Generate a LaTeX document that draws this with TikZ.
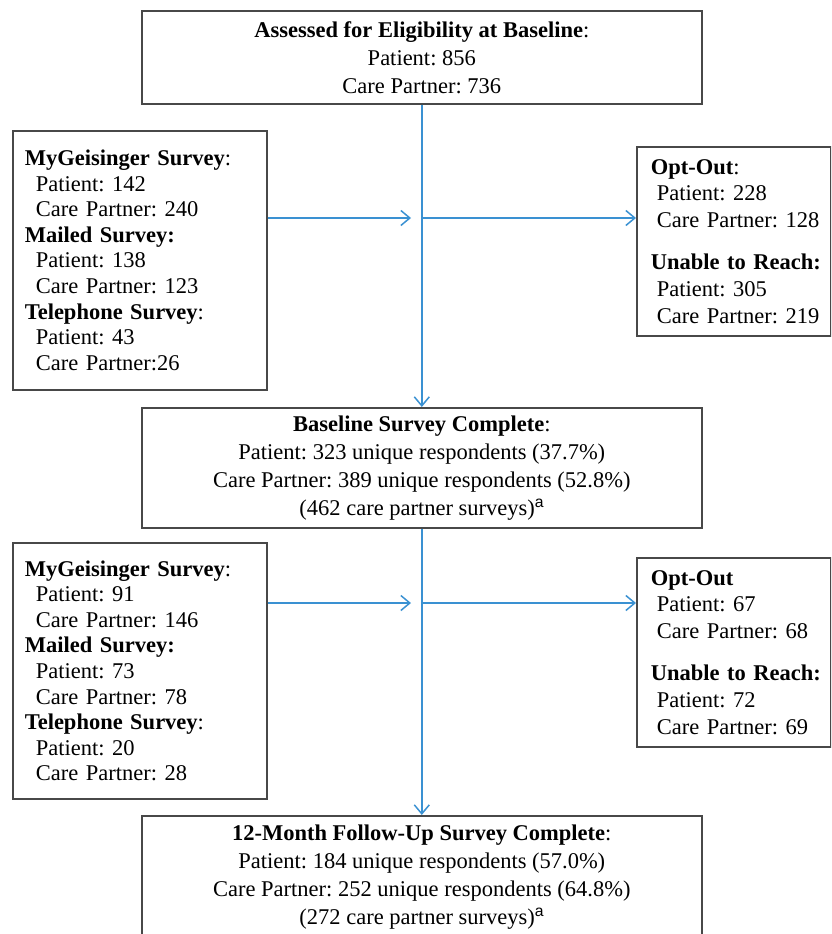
\documentclass[tikz,border=0pt]{standalone}
\usepackage{fontspec}
\setmainfont{Liberation Serif}
\newfontfamily\supfont{Liberation Sans}
\usetikzlibrary{arrows.meta}
\definecolor{arrowblue}{RGB}{58,145,210}
\definecolor{boxgray}{RGB}{72,72,72}
\newcommand{\ind}{\hspace*{11pt}}
\newcommand{\rhead}{\hspace*{14pt}}
\newcommand{\rind}{\hspace*{20pt}}
\newcommand{\supa}{\textsuperscript{\supfont a}}
\begin{document}
\frenchspacing
\begin{tikzpicture}[x=1pt,y=-1pt,
  box/.style={draw=boxgray,line width=1.6pt,inner ysep=0pt},
  cbox/.style={box,align=center,minimum width=560pt,anchor=north west,
    font=\fontsize{22.5}{28}\selectfont\frenchspacing},
  lbox/.style={box,align=left,anchor=north west,inner xsep=12pt,text width=230pt,
    font=\fontsize{22.5}{25.6}\selectfont\frenchspacing},
  rbox/.style={box,align=left,anchor=north west,inner xsep=0pt,text width=194pt,
    font=\fontsize{22.5}{26.6}\selectfont\frenchspacing},
  flow/.style={draw=arrowblue,line width=1.5pt,
    -{Straight Barb[length=9pt,width=15pt,line width=1.5pt]}}
]
\useasboundingbox (0,0) rectangle (831,934);
\begin{scope}
\clip (0,0) rectangle (831,934);
% centre column
\node[cbox,minimum height=93pt] (top) at (141,10)
  {\textbf{Assessed for Eligibility at Baseline}:\\Patient: 856\\Care Partner: 736};
\node[cbox,minimum height=120pt] (mid) at (141,407)
  {\textbf{Baseline Survey Complete}:\\
   Patient: 323 unique respondents (37.7\%)\\
   Care Partner: 389 unique respondents (52.8\%)\\
   (462 care partner surveys)\supa};
\node[cbox,minimum height=122pt] (bot) at (141,815)
  {\textbf{12-Month Follow-Up Survey Complete}:\\
   Patient: 184 unique respondents (57.0\%)\\
   Care Partner: 252 unique respondents (64.8\%)\\
   (272 care partner surveys)\supa};
% left boxes
\node[lbox,minimum height=259pt] (l1) at (12,130)
  {\textbf{MyGeisinger Survey}:\\
   \ind Patient: 142\\
   \ind Care Partner: 240\\
   \textbf{Mailed Survey:}\\
   \ind Patient: 138\\
   \ind Care Partner: 123\\
   \textbf{Telephone Survey}:\\
   \ind Patient: 43\\
   \ind Care Partner:26};
\node[lbox,minimum height=256pt] (l2) at (12,542)
  {\textbf{MyGeisinger Survey}:\\
   \ind Patient: 91\\
   \ind Care Partner: 146\\
   \textbf{Mailed Survey:}\\
   \ind Patient: 73\\
   \ind Care Partner: 78\\
   \textbf{Telephone Survey}:\\
   \ind Patient: 20\\
   \ind Care Partner: 28};
% right boxes
\node[rbox,minimum height=189pt] (r1) at (636,146)
  {\rhead\textbf{Opt-Out}:\\
   \rind Patient: 228\\
   \rind Care Partner: 128\\[16pt]
   \rhead\textbf{Unable to Reach:}\\
   \rind Patient: 305\\
   \rind Care Partner: 219};
\node[rbox,minimum height=189pt] (r2) at (636,557)
  {\rhead\textbf{Opt-Out}\\
   \rind Patient: 67\\
   \rind Care Partner: 68\\[16pt]
   \rhead\textbf{Unable to Reach:}\\
   \rind Patient: 72\\
   \rind Care Partner: 69};
% junctions on the main line
\coordinate (j1) at (421,218);
\coordinate (j2) at (421,603);
% connectors
\draw[flow] (top.south) -- (mid.north);
\draw[flow] (mid.south) -- (bot.north);
\draw[flow] (l1.east |- j1) -- ([xshift=-10pt]j1);
\draw[flow] (j1) -- (r1.west |- j1);
\draw[flow] (l2.east |- j2) -- ([xshift=-10pt]j2);
\draw[flow] (j2) -- (r2.west |- j2);
\end{scope}
\end{tikzpicture}
\end{document}
